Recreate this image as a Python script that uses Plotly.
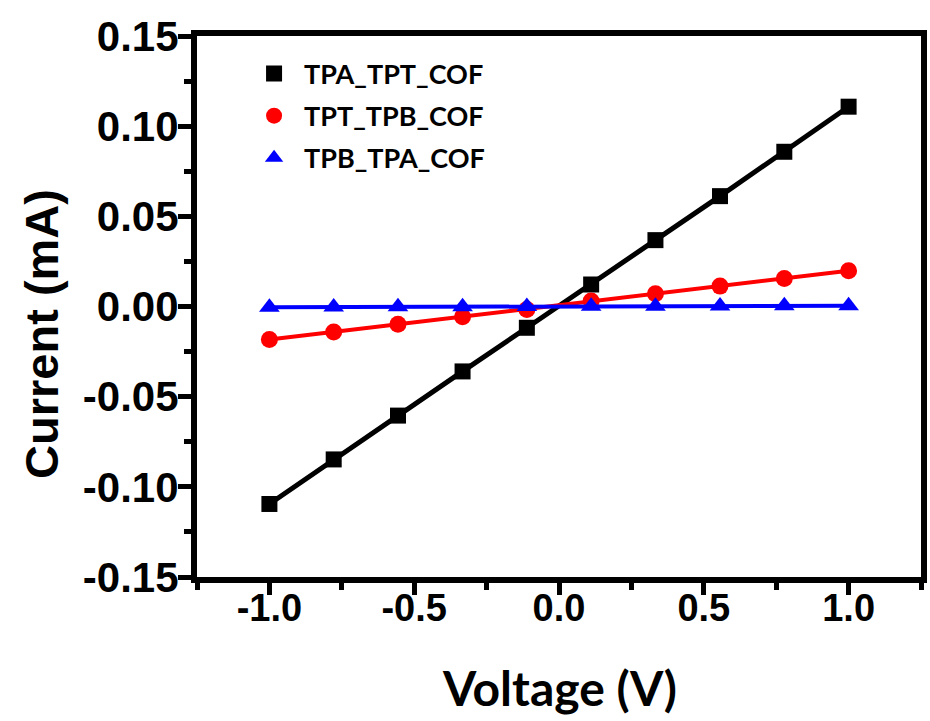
import plotly.graph_objects as go

voltage = [-1.0, -0.778, -0.556, -0.333, -0.111, 0.111, 0.333, 0.556, 0.778, 1.0]
tpa_tpt = [-0.1095, -0.0848, -0.0605, -0.0360, -0.0118, 0.0122, 0.0368, 0.0612, 0.0858, 0.1108]
tpt_tpb = [-0.0183, -0.0141, -0.0099, -0.0057, -0.0016, 0.0030, 0.0071, 0.0113, 0.0155, 0.0198]
tpb_tpa = [-0.0004, -0.0003, -0.0002, -0.0001, 0.0000, 0.0001, 0.0002, 0.0003, 0.0004, 0.0004]

names = ["TPA_TPT_COF", "TPT_TPB_COF", "TPB_TPA_COF"]
series = [tpa_tpt, tpt_tpb, tpb_tpa]
colors = ["#000000", "#ff0000", "#0000ff"]
symbols = ["square", "circle", "triangle-up"]
msizes = [16, 17, 18]
lwidths = [5, 4, 4]

x_ticks = [-1.0, -0.5, 0.0, 0.5, 1.0]
x_ticklabels = ["-1.0", "-0.5", "0.0", "0.5", "1.0"]
y_ticks = [-0.15, -0.10, -0.05, 0.0, 0.05, 0.10, 0.15]
y_ticklabels = ["-0.15", "-0.10", "-0.05", "0.00", "0.05", "0.10", "0.15"]

fig = go.Figure()
for i in range(3):
    fig.add_trace(go.Scatter(x=voltage, y=series[i], mode="lines",
                             line=dict(color=colors[i], width=lwidths[i]),
                             showlegend=False, hoverinfo="skip"))
    fig.add_trace(go.Scatter(x=voltage, y=series[i], mode="markers", name=names[i],
                             legendgroup=names[i],
                             marker=dict(symbol=symbols[i], size=msizes[i], color=colors[i],
                                         line=dict(width=0))))

axis_common = dict(showline=True, linecolor="black", linewidth=6, mirror=True,
                   ticks="outside", tickcolor="black", tickwidth=5,
                   showgrid=False, zeroline=False)

fig.update_xaxes(range=[-1.25, 1.25], tickvals=x_ticks, ticktext=x_ticklabels,
                 ticklen=12, ticklabelstandoff=-20,
                 minor=dict(ticks="outside", ticklen=7, tickwidth=5, tickcolor="black",
                            dtick=0.25, tick0=0, showgrid=False),
                 tickfont=dict(family="Liberation Sans, Arial", size=38, color="black", weight="bold"),
                 **axis_common)
fig.update_yaxes(range=[-0.15, 0.15], tickvals=y_ticks, ticktext=y_ticklabels,
                 ticklen=13, ticklabelstandoff=-9,
                 minor=dict(ticks="outside", ticklen=7, tickwidth=5, tickcolor="black",
                            dtick=0.025, tick0=0, showgrid=False),
                 tickfont=dict(family="Liberation Sans, Arial", size=42, color="black", weight="bold"),
                 **axis_common)

fig.add_annotation(text="<b>Voltage (V)</b>", xref="paper", yref="paper",
                   x=0.5, y=-0.205, xanchor="center", yanchor="middle", showarrow=False,
                   font=dict(family="Lato", size=48, color="black"))
fig.add_annotation(text="<b>Current (mA)</b>", xref="paper", yref="paper",
                   x=-0.215, y=0.45, xanchor="center", yanchor="middle", showarrow=False,
                   textangle=-90,
                   font=dict(family="Liberation Sans, Arial", size=47, color="black"))

fig.update_layout(
    width=930, height=721,
    margin=dict(l=197, r=3, t=36, b=144),
    plot_bgcolor="white", paper_bgcolor="white",
    legend=dict(x=0.065, y=0.975, xanchor="left", yanchor="top",
                bgcolor="rgba(0,0,0,0)", borderwidth=0, tracegroupgap=4,
                itemwidth=50,
                font=dict(family="Lato", size=27, color="black", weight="bold")),
)

fig.write_html("out.html")
